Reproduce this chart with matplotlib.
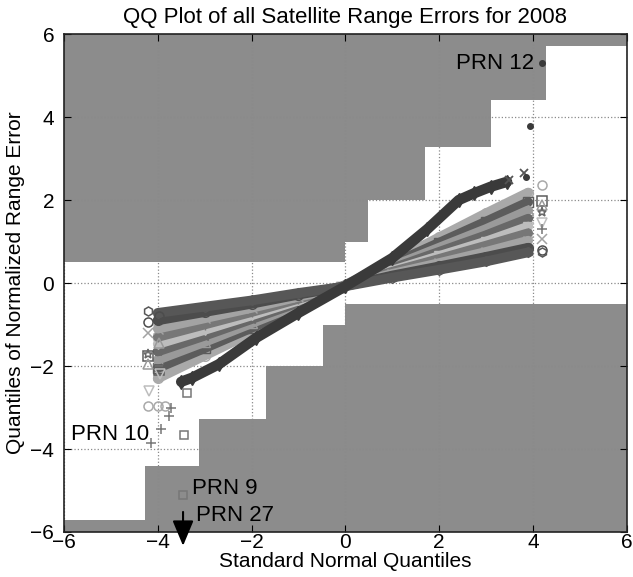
import matplotlib
matplotlib.use("Agg")
import matplotlib.pyplot as plt

# =========================
# data
# =========================
# gray staircase (step edges and boundary heights)
UPPER_EDGES = [-6, 0.0, 0.48, 1.70, 3.11, 4.28, 6]
UPPER_FLOOR = [0.5, 1.0, 2.0, 3.28, 4.4, 5.72]
LOWER_EDGES = [-6, -4.28, -3.11, -1.70, -0.48, 0.0, 6]
LOWER_CEIL = [-5.72, -4.4, -3.28, -2.0, -1.0, -0.5]

# satellite with the strongly curved band
CURVE_X = [-3.5, -3.26, -2.7, -1.9, -1.0, 0.0, 1.0, 1.75, 2.42, 2.74, 3.1, 3.45]
CURVE_Y = [-2.38, -2.28, -1.96, -1.32, -0.72, -0.08, 0.6, 1.3, 2.0, 2.16, 2.32, 2.44]

# the other satellites: band body at these quantiles
BODY_X = [-4.0, -3.0, -2.0, -1.0, -0.1, 1.0, 2.0, 3.0, 3.9]
BODY_Y = [
    [-2.3, -1.75, -1.2, -0.64, -0.1, 0.52, 1.1, 1.68, 2.18],
    [-2.05, -1.57, -1.08, -0.58, -0.1, 0.46, 0.97, 1.48, 1.95],
    [-1.85, -1.42, -0.97, -0.52, -0.1, 0.4, 0.85, 1.3, 1.75],
    [-1.65, -1.27, -0.87, -0.47, -0.1, 0.35, 0.75, 1.15, 1.55],
    [-1.47, -1.13, -0.78, -0.42, -0.1, 0.3, 0.65, 1.0, 1.36],
    [-1.3, -1.0, -0.7, -0.38, -0.1, 0.27, 0.58, 0.9, 1.2],
    [-1.1, -0.85, -0.6, -0.33, -0.1, 0.22, 0.48, 0.75, 1.02],
    [-0.9, -0.7, -0.5, -0.28, -0.1, 0.18, 0.4, 0.63, 0.85],
    [-0.72, -0.57, -0.42, -0.24, -0.1, 0.13, 0.32, 0.52, 0.74],
]
BODY_COLOR = ["#a9a9a9", "#5c5c5c", "#9a9a9a", "#686868", "#bdbdbd",
              "#777777", "#a3a3a3", "#4c4c4c", "#575757"]
BODY_MARKER = ["o", "s", "^", "*", "v", "+", "x", "o", "h"]

# extreme quantiles (tails) for each of those satellites
TAIL_X = [
    [-4.2, -4.0, -3.85, 4.2],
    [-4.2, -3.97, 4.2],
    [-4.2, -3.97, 4.2],
    [-4.2, 4.2],
    [-4.19, -3.95, 4.2],
    [-4.14, -3.93, -3.77, -3.72, 4.2],
    [-4.2, 4.2],
    [-4.2, -3.97, 4.2],
    [-4.2, 4.2],
]
TAIL_Y = [
    [-2.96, -2.96, -2.96, 2.36],
    [-1.76, -2.1, 1.98],
    [-1.95, -1.45, 1.88],
    [-1.7, 1.72],
    [-2.6, -2.2, 1.45],
    [-3.85, -3.52, -3.2, -3.0, 1.3],
    [-1.2, 1.05],
    [-0.95, -0.8, 0.8],
    [-0.68, 0.75],
]

# PRN 9 squares, crosses and dark outliers
SQUARE_X = [-3.47, -3.45, -3.38]
SQUARE_Y = [-5.1, -3.66, -2.64]
CROSS_X = [3.5, 3.82]
CROSS_Y = [2.48, 2.66]
DOT_X = [3.86, 3.93, 4.19]
DOT_Y = [2.55, 3.79, 5.31]

GRAY = "#8c8c8c"

plt.rcParams["font.family"] = ["Liberation Sans", "DejaVu Sans"]
plt.rcParams["font.size"] = 15

fig = plt.figure(figsize=(6.33, 5.77), dpi=100)
ax = fig.add_axes([0.101, 0.078, 0.889, 0.863])

# =========================
# gray staircase regions
# =========================
ax.fill_between(UPPER_EDGES, UPPER_FLOOR + [UPPER_FLOOR[-1]], 6,
                step="post", color=GRAY, lw=0, zorder=1)
ax.fill_between(LOWER_EDGES, -6, LOWER_CEIL + [LOWER_CEIL[-1]],
                step="post", color=GRAY, lw=0, zorder=1)

# =========================
# QQ bands
# =========================
for ys, c, m in zip(BODY_Y, BODY_COLOR, BODY_MARKER):
    ax.plot(BODY_X, ys, color=c, lw=7, marker=m, ms=7, mfc="none",
            solid_capstyle="round", zorder=3)
for tx, ty, c, m in zip(TAIL_X, TAIL_Y, BODY_COLOR, BODY_MARKER):
    ax.plot(tx, ty, ls="none", color=c, marker=m, ms=6.5, mfc="none",
            mew=1.1, zorder=3)

ax.plot(CURVE_X, CURVE_Y, color="#3a3a3a", lw=7.5, marker="d", ms=7,
        solid_capstyle="round", zorder=4)
ax.plot(SQUARE_X, SQUARE_Y, ls="none", marker="s", ms=6, mfc="none",
        color="#777777", mew=1.1, zorder=4)
ax.plot(CROSS_X, CROSS_Y, ls="none", marker="x", ms=6, color="#555555",
        mew=1.3, zorder=4)
ax.plot(DOT_X, DOT_Y, ls="none", marker="o", ms=4, color="#3a3a3a", zorder=4)

# =========================
# annotations
# =========================
ax.text(4.02, 5.29, "PRN 12", ha="right", va="center", fontsize=16, zorder=5)
ax.text(-5.84, -3.64, "PRN 10", ha="left", va="center", fontsize=16, zorder=5)
ax.text(-3.26, -4.94, "PRN 9", ha="left", va="center", fontsize=16, zorder=5)
ax.text(-3.18, -5.6, "PRN 27", ha="left", va="center", fontsize=16, zorder=5)
ax.annotate("", xy=(-3.46, -6.4), xytext=(-3.46, -5.45),
            arrowprops=dict(arrowstyle="-|>,head_length=1.2,head_width=0.5",
                            color="black", lw=1.5, mutation_scale=13),
            annotation_clip=False, zorder=6)

# =========================
# axes
# =========================
ax.set_xlim(-6, 6)
ax.set_ylim(-6, 6)
ax.set_xticks(range(-6, 7, 2))
ax.set_yticks(range(-6, 7, 2))
ax.set_axisbelow("line")
ax.grid(True, ls=":", color="#8a8a8a", lw=0.9)
ax.tick_params(direction="in", top=True, right=True, length=5, pad=1)
ax.tick_params(axis="y", pad=7)
for s in ax.spines.values():
    s.set_linewidth(1.2)
    s.set_color("#222222")

ax.set_title("QQ Plot of all Satellite Range Errors for 2008", fontsize=16, pad=8)
ax.set_xlabel("Standard Normal Quantiles", fontsize=15, labelpad=0)
ax.set_ylabel("Quantiles of Normalized Range Error", fontsize=15, labelpad=4)

fig.savefig("out.png", dpi=100)
